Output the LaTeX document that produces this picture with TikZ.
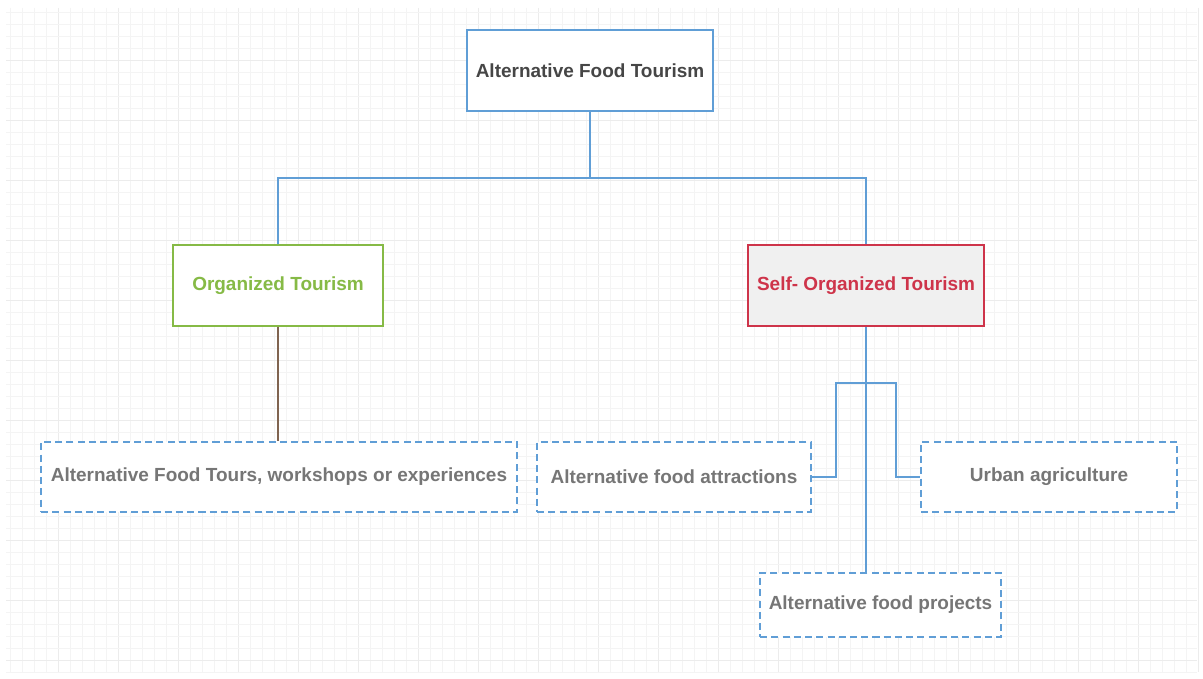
\documentclass[tikz,border=0pt]{standalone}
\usepackage{fontspec}
\setmainfont{Liberation Sans}
\begin{document}
\definecolor{edgeblue}{RGB}{96,158,214}
\definecolor{gridc}{RGB}{244,244,244}
\definecolor{gridd}{RGB}{236,236,236}
\definecolor{titlegray}{RGB}{70,70,70}
\definecolor{leafgray}{RGB}{118,118,118}
\definecolor{orggreen}{RGB}{134,186,70}
\definecolor{selfred}{RGB}{206,52,74}
\definecolor{selffill}{RGB}{240,240,240}
\definecolor{brownline}{RGB}{128,100,80}
\begin{tikzpicture}[x=0.02cm,y=-0.02cm,
  box/.style={draw, line width=1.1pt, inner sep=0pt, font=\fontsize{10.8}{12}\selectfont\bfseries},
  topbox/.style={box, draw=edgeblue, fill=white, text=titlegray, minimum height=1.62cm},
  orgbox/.style={box, draw=orggreen, fill=white, text=orggreen, minimum height=1.62cm},
  selfbox/.style={box, draw=selfred, fill=selffill, text=selfred, minimum height=1.62cm},
  leafbox/.style={box, draw=edgeblue, fill=white, text=leafgray, dash pattern=on 4pt off 2.4pt},
  link/.style={draw=edgeblue, line width=1.1pt},
  brownlink/.style={draw=brownline, line width=1.1pt}]
  % page and background grid
  \fill[white] (0,0) rectangle (1203,679);
  \useasboundingbox (0,0) rectangle (1203,679);
  \foreach \i in {0,...,99} {
    \pgfmathsetmacro{\gx}{10+12*\i}
    \pgfmathtruncatemacro{\m}{mod(\i,5)}
    \ifnum\m=4 \draw[gridd, line width=0.5pt] (\gx,8) -- (\gx,672);
    \else \draw[gridc, line width=0.4pt] (\gx,8) -- (\gx,672); \fi
  }
  \foreach \j in {0,...,55} {
    \pgfmathsetmacro{\gy}{12+12*\j}
    \pgfmathtruncatemacro{\m}{mod(\j,5)}
    \ifnum\m=4 \draw[gridd, line width=0.5pt] (6,\gy) -- (1197,\gy);
    \else \draw[gridc, line width=0.4pt] (6,\gy) -- (1197,\gy); \fi
  }

  % nodes
  \node[topbox, minimum width=4.92cm] (top) at (590,70.5) {Alternative Food Tourism};
  \node[orgbox, minimum width=4.2cm] (org) at (278,285.5) {Organized Tourism};
  \node[selfbox, minimum width=4.72cm] (self) at (866,285.5) {Self- Organized Tourism};
  \node[leafbox, minimum width=9.52cm, minimum height=1.4cm] (tours) at (279,477) {Alternative Food Tours, workshops or experiences};
  \node[leafbox, minimum width=5.48cm, minimum height=1.4cm] (attr) at (674,477) {Alternative food attractions};
  \node[leafbox, minimum width=5.12cm, minimum height=1.4cm] (urban) at (1049,477) {Urban agriculture};
  \node[leafbox, minimum width=4.82cm, minimum height=1.28cm] (proj) at (880.5,605) {Alternative food projects};

  % junction points
  \coordinate (split) at (590,178);
  \coordinate (bl) at (836,383);
  \coordinate (br) at (896,383);

  % connectors
  \draw[link] (top.south) -- (split);
  \draw[link] (org.north) |- (split) -| (self.north);
  \draw[brownlink] (org.south) -- (tours.north -| org.south);
  \draw[link] (self.south) -- (self.south |- proj.north);
  \draw[link] (attr.east) -| (bl) -- (br) |- (urban.west);
\end{tikzpicture}
\end{document}
